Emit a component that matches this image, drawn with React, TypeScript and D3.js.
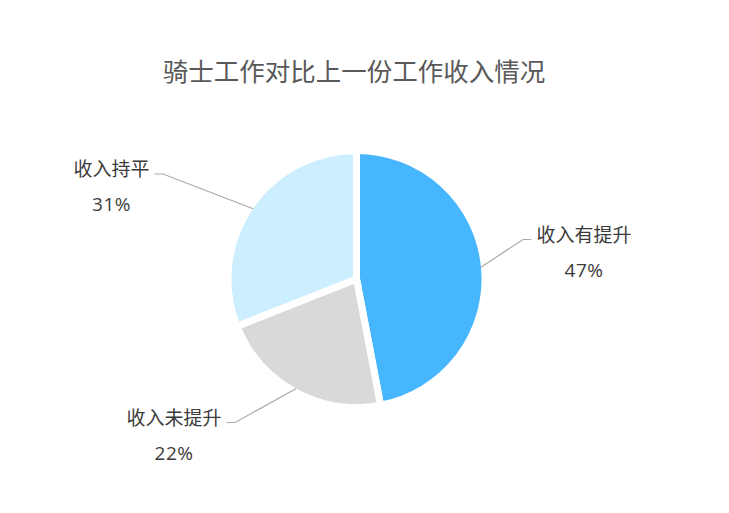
import React, { useRef, useEffect } from "react";
import * as d3 from "d3";

const title = "骑士工作对比上一份工作收入情况";
const categories = ["收入有提升", "收入未提升", "收入持平"];
const values = [47, 22, 31];
const colors = ["#46b6fe", "#d9d9d9", "#cdeeff"];
// label elbow points (layout only): [x, y, side]
const labelElbows: [number, number, number][] = [
    [523, 239.5, 1],
    [235, 422.5, -1],
    [163, 174, -1],
];

const App: React.FC = () => {
    const svgRef = useRef<SVGSVGElement | null>(null);

    useEffect(() => {
        if (!svgRef.current) return;

        const width = 729;
        const height = 513;
        const cx = 356.5;
        const cy = 279;
        const r = 125;
        const font = "'Noto Sans CJK SC', 'Noto Sans', sans-serif";

        const svg = d3.select(svgRef.current)
            .attr("width", width)
            .attr("height", height)
            .attr("viewBox", `0 0 ${width} ${height}`);

        svg.selectAll("*").remove();

        svg.append("text")
            .attr("x", 354)
            .attr("y", 69)
            .attr("text-anchor", "middle")
            .attr("dominant-baseline", "central")
            .attr("fill", "#595959")
            .style("font", `25.5px ${font}`)
            .text(title);

        const pie = d3.pie<number>().sort(null).value(d => d);
        const arcs = pie(values);
        const arc = d3.arc<d3.PieArcDatum<number>>()
            .innerRadius(0)
            .outerRadius(r + 3.5);

        const g = svg.append("g").attr("transform", `translate(${cx},${cy})`);

        g.selectAll("path")
            .data(arcs)
            .join("path")
            .attr("d", arc)
            .attr("fill", (_, i) => colors[i])
            .attr("stroke", "#fff")
            .attr("stroke-width", 7)
            .attr("stroke-linejoin", "round");

        const total = d3.sum(values);

        arcs.forEach((a, i) => {
            const mid = (a.startAngle + a.endAngle) / 2;
            const sx = cx + r * Math.sin(mid);
            const sy = cy - r * Math.cos(mid);
            const [ex, ey, side] = labelElbows[i];
            const endX = ex + side * 8.5;

            svg.append("polyline")
                .attr("points", `${sx},${sy} ${ex},${ey} ${endX},${ey}`)
                .attr("fill", "none")
                .attr("stroke", "#aaaaaa")
                .attr("stroke-width", 1.2);

            const nameX = endX + side * 5;
            const nameW = categories[i].length * 19;
            const centerX = side > 0 ? nameX + nameW / 2 : nameX - nameW / 2;

            svg.append("text")
                .attr("x", centerX)
                .attr("y", ey - 6.5)
                .attr("text-anchor", "middle")
                .attr("dominant-baseline", "central")
                .attr("fill", "#3a3a3a")
                .style("font", `19px ${font}`)
                .text(categories[i]);

            svg.append("text")
                .attr("x", centerX)
                .attr("y", ey + 30)
                .attr("text-anchor", "middle")
                .attr("dominant-baseline", "central")
                .attr("fill", "#3a3a3a")
                .style("font", `19px 'Open Sans', sans-serif`)
                .style("letter-spacing", "0.5px")
                .text(`${Math.round((values[i] / total) * 100)}%`);
        });
    }, []);

    return <svg ref={svgRef} style={{ position: "absolute", left: 0, top: 0 }} />;
};

export default App;
